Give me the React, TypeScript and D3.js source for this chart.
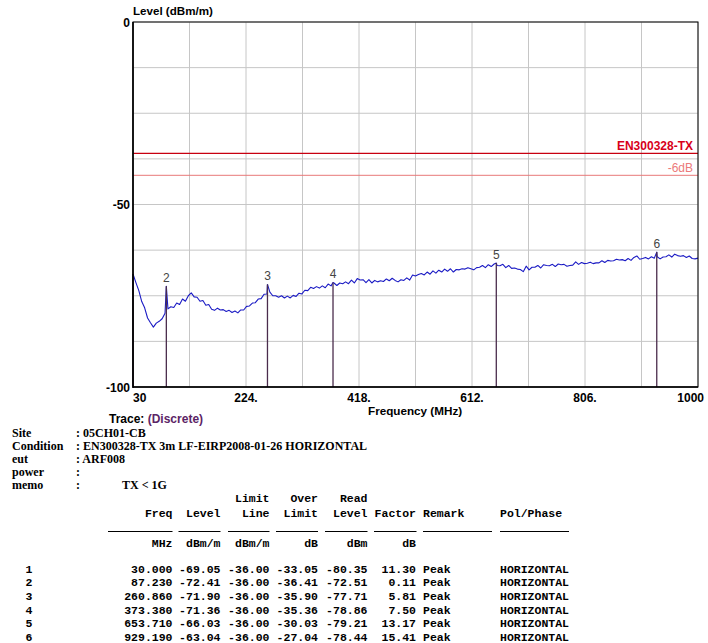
import React from 'react';
import * as d3 from 'd3';

// sweep 30 - 1000 MHz, one reading every 5 MHz
const traceStart = 30;
const traceStep = 5;
const traceLevels = [
  -69.05, -71.4, -73.6, -76.6, -78.3, -81.1, -82.4, -83.6, -82.5, -82.0,
  -81.3, -79.8, -78.6, -78.0, -78.2, -77.0, -77.4, -75.9, -76.5, -75.0,
  -74.2, -75.3, -75.4, -76.5, -76.3, -77.6, -77.4, -78.7, -79.0, -78.4,
  -78.9, -78.8, -79.3, -79.0, -79.6, -79.2, -79.7, -78.9, -78.9, -77.9,
  -77.8, -77.0, -76.9, -75.9, -75.8, -74.6, -74.5, -74.0, -75.0, -75.0,
  -75.4, -75.0, -75.6, -75.1, -75.6, -74.9, -75.2, -74.3, -74.5, -73.5,
  -73.6, -72.7, -73.0, -72.5, -72.9, -72.3, -72.8, -71.8, -72.3, -71.5,
  -72.2, -71.5, -71.7, -71.2, -71.7, -70.7, -71.5, -70.3, -70.7, -70.6,
  -71.4, -70.6, -71.5, -70.8, -71.2, -70.9, -71.1, -70.4, -70.9, -70.2,
  -70.8, -71.2, -70.6, -70.8, -70.1, -70.7, -69.3, -69.6, -69.2, -68.9,
  -69.3, -68.5, -69.1, -68.2, -68.8, -68.0, -68.5, -67.7, -68.3, -67.6,
  -68.5, -67.8, -67.9, -67.6, -67.7, -67.3, -67.6, -67.9, -67.3, -67.2,
  -66.7, -67.3, -66.5, -67.0, -66.3, -66.7, -66.8, -66.4, -67.3, -66.7,
  -67.5, -67.4, -67.7, -67.8, -68.4, -66.9, -67.9, -67.2, -67.2, -66.7,
  -67.4, -66.5, -66.7, -66.8, -66.4, -67.0, -66.3, -66.5, -66.4, -66.9,
  -66.7, -66.6, -65.7, -66.4, -65.9, -66.2, -66.1, -65.8, -66.2, -66.0,
  -66.0, -65.4, -65.9, -65.3, -65.5, -65.4, -65.0, -65.2, -65.1, -65.4,
  -64.8, -65.3, -64.5, -64.1, -65.0, -64.8, -64.5, -64.9, -64.3, -64.7,
  -64.3, -64.9, -64.4, -64.3, -63.8, -64.4, -63.6, -64.0, -64.2, -64.0,
  -64.5, -64.1, -64.8, -64.9, -64.7,
];

// peak markers / result table
const markerNo = [1, 2, 3, 4, 5, 6];
const markerFreq = [30.0, 87.23, 260.86, 373.38, 653.71, 929.19];
const markerLevel = [-69.05, -72.41, -71.9, -71.36, -66.03, -63.04];
const markerLimit = [-36.0, -36.0, -36.0, -36.0, -36.0, -36.0];
const markerOver = [-33.05, -36.41, -35.9, -35.36, -30.03, -27.04];
const markerRead = [-80.35, -72.51, -77.71, -78.86, -79.21, -78.44];
const markerFactor = [11.3, 0.11, 5.81, 7.5, 13.17, 15.41];
const markerRemark = ['Peak', 'Peak', 'Peak', 'Peak', 'Peak', 'Peak'];
const markerPol = ['HORIZONTAL', 'HORIZONTAL', 'HORIZONTAL', 'HORIZONTAL', 'HORIZONTAL', 'HORIZONTAL'];

const limitLevel = -36;
const marginLevel = -42;
const limitName = 'EN300328-TX';
const marginName = '-6dB';

const freqGrid = [30, 127, 224, 321, 418, 515, 612, 709, 806, 903, 1000];
const freqTickValues = [30, 224, 418, 612, 806, 1000];
const freqTickLabels = ['30', '224.', '418.', '612.', '806.', '1000'];
const levelGrid = [0, -12.5, -25, -37.5, -50, -62.5, -75, -87.5, -100];
const levelTickValues = [0, -50, -100];

const infoLabels = ['Site', 'Condition', 'eut', 'power', 'memo'];
const infoValues = [': 05CH01-CB', ': EN300328-TX 3m LF-EIRP2008-01-26 HORIZONTAL', ': ARF008', ':', ':'];
const memoText = 'TX < 1G';

const W = 708;
const H = 643;
const plot = { left: 133, right: 698, top: 22, bottom: 387 };
const sans = "'Liberation Sans', Arial, sans-serif";
const serif = "'Liberation Serif', 'Times New Roman', serif";
const mono = "'Liberation Mono', 'Courier New', monospace";

const App: React.FC = () => {
  const x = d3.scaleLinear().domain([30, 1000]).range([plot.left, plot.right]);
  const y = d3.scaleLinear().domain([0, -100]).range([plot.top, plot.bottom]);

  const trace: [number, number][] = traceLevels.map((v, i) => [traceStart + i * traceStep, v]);
  markerFreq.forEach((f, i) => trace.push([f, markerLevel[i]]));
  trace.sort((a, b) => a[0] - b[0]);

  const line = d3
    .line<[number, number]>()
    .x((d) => x(d[0]))
    .y((d) => y(d[1]));

  // table column right edges (px)
  const colRight = [172.5, 220.5, 269.5, 318, 367.5, 416];
  const remarkX = 423;
  const polX = 500;
  const rowY = (i: number) => 572.5 + i * 13.7;

  const cell = (txt: string, px: number, py: number, anchor = 'end') => (
    <text x={px} y={py} textAnchor={anchor}>
      {txt}
    </text>
  );

  const underlines: [number, number][] = [
    [108, 172.5], [178.5, 220.5], [228, 269.5], [276, 318], [325, 367.5], [374, 416.5], [423, 492], [500, 569],
  ];

  return (
    <svg
      width={W}
      height={H}
      style={{ position: 'absolute', left: 0, top: 0, background: '#fff' }}
    >
      {/* grid */}
      <g stroke="#c6c6c6" strokeWidth={1}>
        {freqGrid.map((f) => (
          <line key={'gx' + f} x1={x(f)} x2={x(f)} y1={plot.top} y2={plot.bottom} />
        ))}
        {levelGrid.map((l) => (
          <line key={'gy' + l} x1={plot.left} x2={plot.right} y1={y(l)} y2={y(l)} />
        ))}
      </g>

      {/* limit lines */}
      <line x1={plot.left} x2={plot.right} y1={y(limitLevel)} y2={y(limitLevel)} stroke="#c80010" strokeWidth={1.4} />
      <line x1={plot.left} x2={plot.right} y1={y(marginLevel)} y2={y(marginLevel)} stroke="#e87878" strokeWidth={1} />
      <text x={693} y={y(limitLevel) - 3.5} textAnchor="end" fontFamily={sans} fontWeight="bold" fontSize={12} fill="#d8001a">
        {limitName}
      </text>
      <text x={693} y={y(marginLevel) - 3.5} textAnchor="end" fontFamily={sans} fontSize={12} fill="#ec7a7a">
        {marginName}
      </text>

      {/* trace */}
      <path d={line(trace) || ''} fill="none" stroke="#1a1ac4" strokeWidth={1.1} strokeLinejoin="round" />

      {/* markers */}
      {markerFreq.map((f, i) => (
        <g key={'m' + i}>
          <line x1={x(f)} x2={x(f)} y1={y(markerLevel[i])} y2={plot.bottom} stroke="#4a2c4c" strokeWidth={1.3} />
          {f > 30 && (
            <text x={x(f)} y={y(markerLevel[i]) - 4} textAnchor="middle" fontFamily={sans} fontSize={12} fill="#444">
              {markerNo[i]}
            </text>
          )}
        </g>
      ))}

      {/* frame */}
      <rect x={plot.left} y={plot.top} width={plot.right - plot.left} height={plot.bottom - plot.top} fill="none" stroke="#000" strokeWidth={1} />
      <line x1={plot.left} x2={plot.left} y1={plot.top} y2={plot.bottom + 1} stroke="#000" strokeWidth={1.6} />
      <line x1={plot.left} x2={plot.right} y1={plot.bottom} y2={plot.bottom} stroke="#000" strokeWidth={1.6} />

      {/* axes labels */}
      <g fontFamily={sans} fontWeight="bold" fontSize={12} fill="#000">
        {levelTickValues.map((l) => (
          <text key={'yl' + l} x={130} y={y(l) + 4.5} textAnchor="end">
            {l}
          </text>
        ))}
        {freqTickValues.map((f, i) => (
          <text
            key={'xl' + f}
            x={i === freqTickValues.length - 1 ? x(f) + 6 : x(f)}
            y={401.5}
            textAnchor={i === 0 ? 'start' : i === freqTickValues.length - 1 ? 'end' : 'middle'}
          >
            {freqTickLabels[i]}
          </text>
        ))}
        <text x={133} y={15} fontSize={11.6}>Level (dBm/m)</text>
        <text x={368} y={415} fontSize={11.7}>Frequency (MHz)</text>
        <text x={109} y={423} fontSize={12}>
          Trace: <tspan fill="#5c2466">(Discrete)</tspan>
        </text>
      </g>

      {/* info block */}
      <g fontFamily={serif} fontWeight="bold" fontSize={12} fill="#000">
        {infoLabels.map((lab, i) => (
          <g key={'info' + i}>
            <text x={12} y={437 + i * 13}>{lab}</text>
            <text x={76} y={437 + i * 13}>{infoValues[i]}</text>
          </g>
        ))}
        <text x={122} y={437 + 4 * 13}>{memoText}</text>
      </g>

      {/* result table */}
      <g fontFamily={mono} fontWeight="bold" fontSize={11.5} fill="#000">
        {cell('Limit', colRight[2], 501.5)}
        {cell('Over', colRight[3], 501.5)}
        {cell('Read', colRight[4], 501.5)}
        {cell('Freq', colRight[0], 516.5)}
        {cell('Level', colRight[1], 516.5)}
        {cell('Line', colRight[2], 516.5)}
        {cell('Limit', colRight[3], 516.5)}
        {cell('Level', colRight[4], 516.5)}
        {cell('Factor', colRight[5], 516.5)}
        {cell('Remark', remarkX, 516.5, 'start')}
        {cell('Pol/Phase', polX, 516.5, 'start')}
        {cell('MHz', colRight[0], 546.5)}
        {cell('dBm/m', colRight[1], 546.5)}
        {cell('dBm/m', colRight[2], 546.5)}
        {cell('dB', colRight[3], 546.5)}
        {cell('dBm', colRight[4], 546.5)}
        {cell('dB', colRight[5], 546.5)}
        {markerNo.map((n, i) => (
          <g key={'row' + i}>
            {cell(String(n), 29, rowY(i), 'middle')}
            {cell(markerFreq[i].toFixed(3), colRight[0], rowY(i))}
            {cell(markerLevel[i].toFixed(2), colRight[1], rowY(i))}
            {cell(markerLimit[i].toFixed(2), colRight[2], rowY(i))}
            {cell(markerOver[i].toFixed(2), colRight[3], rowY(i))}
            {cell(markerRead[i].toFixed(2), colRight[4], rowY(i))}
            {cell(markerFactor[i].toFixed(2), colRight[5], rowY(i))}
            {cell(markerRemark[i], remarkX, rowY(i), 'start')}
            {cell(markerPol[i], polX, rowY(i), 'start')}
          </g>
        ))}
      </g>
      <g stroke="#000" strokeWidth={1}>
        {underlines.map(([a, b], i) => (
          <line key={'ul' + i} x1={a} x2={b} y1={531.5} y2={531.5} />
        ))}
      </g>
    </svg>
  );
};

export default App;
